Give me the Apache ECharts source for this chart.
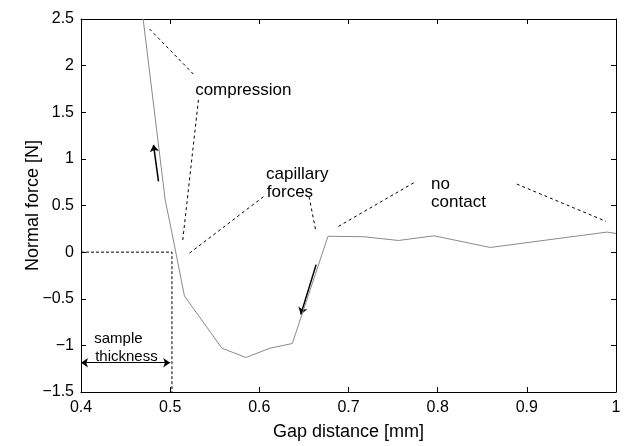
<!DOCTYPE html>
<html>
<head>
<meta charset="utf-8">
<script src="https://cdn.jsdelivr.net/npm/echarts@6/dist/echarts.min.js"></script>
<style>
  html, body { margin: 0; padding: 0; background: #fff; }
  #chart { width: 625px; height: 446px; }
</style>
</head>
<body>
<div id="chart"></div>
<script>
// measured curve (gap distance mm, normal force N)
var gap = [0.4697, 0.4944, 0.5019, 0.516, 0.558, 0.585, 0.612, 0.637, 0.677, 0.717, 0.756, 0.796, 0.859, 0.99, 1.0];
var force = [2.5, 0.56, 0.21, -0.47, -1.03, -1.13, -1.03, -0.98, 0.17, 0.165, 0.125, 0.175, 0.05, 0.215, 0.2];

// dashed pointer lines [x1, y1, x2, y2]
var pointerLines = [
  [0.4768, 2.393, 0.528, 1.89],
  [0.5317, 1.633, 0.5138, 0.102],
  [0.6046, 0.594, 0.5205, -0.019],
  [0.6558, 0.594, 0.6633, 0.23],
  [0.6887, 0.276, 0.7747, 0.752],
  [0.8887, 0.73, 0.9888, 0.33]
];
// sample thickness guide (dashed L)
var thicknessGuide = [[0.4, 0], [0.502, 0], [0.502, -1.5]];
// direction arrows [x1, y1, x2, y2]
var dirArrows = [
  [0.4869, 0.758, 0.4813, 1.151],
  [0.6637, -0.134, 0.6465, -0.669]
];
var thicknessArrow = [0.4, -1.186, 0.5, -1.186];

// annotation text [x, y, text]
var bigLabels = [
  [0.528, 1.74, 'compression'],
  [0.6076, 0.83, 'capillary'],
  [0.6084, 0.637, 'forces'],
  [0.7926, 0.723, 'no'],
  [0.7926, 0.53, 'contact']
];
var smallLabels = [
  [0.4148, -0.926, 'sample'],
  [0.4159, -1.119, 'thickness']
];

var xTicks = { min: 0.4, max: 1, interval: 0.1 };
var yTicks = { min: -1.5, max: 2.5, interval: 0.5 };

var font = 'Liberation Sans, Arial, Helvetica, sans-serif';
var chart = echarts.init(document.getElementById('chart'));

function seg(a) { return { coords: [[a[0], a[1]], [a[2], a[3]]] }; }
function minus(v) { return String(v).replace('-', '\u2212'); }

var axisLine = { show: true, onZero: false, lineStyle: { color: '#000', width: 1 } };
var tick = { show: true, inside: true, length: 5, lineStyle: { color: '#000' } };

function textSeries(list, size) {
  return {
    type: 'scatter', symbolSize: 0, silent: true,
    itemStyle: { opacity: 1 },
    data: list,
    label: {
      show: true, position: 'right', distance: 0, formatter: function (p) { return p.data[2]; },
      fontFamily: font, fontSize: size, color: '#000', opacity: 1, align: 'left', verticalAlign: 'middle'
    }
  };
}

chart.setOption({
  animation: false,
  grid: { left: 81, right: 9, top: 19, bottom: 53 },
  xAxis: [{
    type: 'value', min: xTicks.min, max: xTicks.max, interval: xTicks.interval,
    name: 'Gap distance [mm]', nameLocation: 'middle', nameGap: 31, nameMoveOverlap: false,
    nameTextStyle: { fontFamily: font, fontSize: 18, color: '#000' },
    axisLine: axisLine, axisTick: tick, splitLine: { show: false },
    axisLabel: { fontFamily: font, fontSize: 16, color: '#000', margin: 8 }
  }, {
    type: 'value', position: 'top', min: xTicks.min, max: xTicks.max, interval: xTicks.interval,
    axisLine: axisLine, axisTick: tick, axisLabel: { show: false }, splitLine: { show: false }
  }],
  yAxis: [{
    type: 'value', min: yTicks.min, max: yTicks.max, interval: yTicks.interval,
    name: 'Normal force [N]', nameLocation: 'middle', nameGap: 39, nameMoveOverlap: false,
    nameTextStyle: { fontFamily: font, fontSize: 18, color: '#000' },
    axisLine: axisLine, axisTick: tick, splitLine: { show: false },
    axisLabel: { fontFamily: font, fontSize: 16, color: '#000', margin: 7, formatter: minus }
  }, {
    type: 'value', position: 'right', min: yTicks.min, max: yTicks.max, interval: yTicks.interval,
    axisLine: axisLine, axisTick: tick, axisLabel: { show: false }, splitLine: { show: false }
  }],
  series: [{
    type: 'line',
    data: gap.map(function (g, i) { return [g, force[i]]; }),
    showSymbol: false, symbol: 'none',
    lineStyle: { color: '#8a8a8a', width: 1 },
    clip: true
  }, {
    type: 'lines', coordinateSystem: 'cartesian2d', silent: true,
    data: pointerLines.map(seg),
    lineStyle: { color: '#000', width: 1, type: [3, 3], opacity: 1 },
    symbol: 'none'
  }, {
    type: 'lines', coordinateSystem: 'cartesian2d', polyline: true, silent: true,
    data: [{ coords: thicknessGuide }],
    lineStyle: { color: '#000', width: 1, type: [3, 2], opacity: 1 },
    symbol: 'none'
  }, {
    type: 'lines', coordinateSystem: 'cartesian2d', silent: true,
    data: dirArrows.map(seg),
    lineStyle: { color: '#000', width: 1.5, type: 'solid', opacity: 1 },
    symbol: ['none', 'arrow'], symbolSize: 7
  }, {
    type: 'lines', coordinateSystem: 'cartesian2d', silent: true,
    data: [seg(thicknessArrow)],
    lineStyle: { color: '#000', width: 1, type: 'solid', opacity: 1 },
    symbol: ['arrow', 'arrow'], symbolSize: 7
  },
  textSeries(bigLabels, 17),
  textSeries(smallLabels, 15)]
});
</script>
</body>
</html>
